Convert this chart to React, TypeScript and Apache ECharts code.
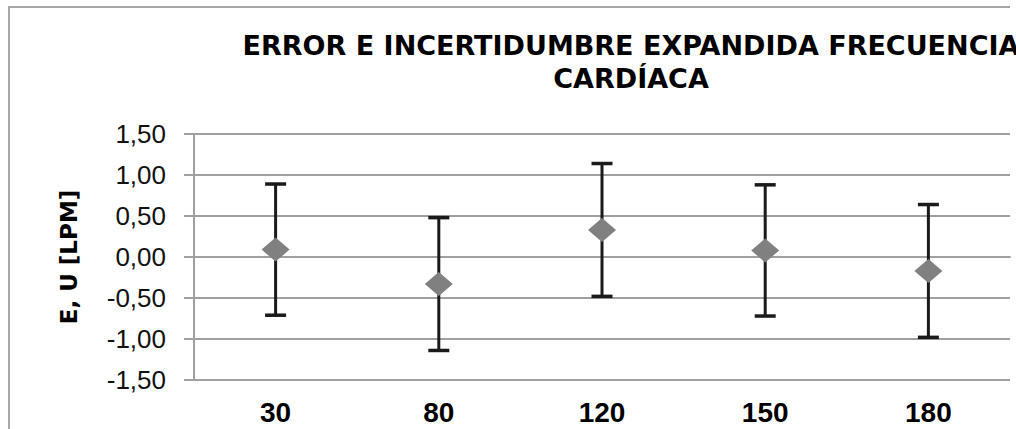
import React, { useEffect, useRef } from "react";
import * as echarts from "echarts";

const categories = ["30", "80", "120", "150", "180"];
const errorE = [0.09, -0.33, 0.33, 0.08, -0.17];
const uncertaintyU = [0.8, 0.81, 0.81, 0.8, 0.81];
const yMin = -1.5;
const yMax = 1.5;
const yInterval = 0.5;

export default function App() {
  const ref = useRef<HTMLDivElement>(null);

  useEffect(() => {
    if (!ref.current) return;
    const chart = echarts.init(ref.current, undefined, { renderer: "svg" });
    const barData = categories.map((_, i) => [i, errorE[i] - uncertaintyU[i], errorE[i] + uncertaintyU[i]]);
    const gridColor = "#a0a0a0";
    chart.setOption({
      animation: false,
      backgroundColor: "#ffffff",
      title: {
        text: "ERROR E INCERTIDUMBRE EXPANDIDA FRECUENCIA\nCARDÍACA",
        left: 631,
        top: 29,
        padding: 0,
        textAlign: "center",
        textStyle: {
          fontFamily: "DejaVu Sans",
          fontWeight: "bold",
          fontSize: 27,
          lineHeight: 33,
          color: "#000000",
        },
      },
      graphic: [
        { type: "line", shape: { x1: 9, y1: 7, x2: 9, y2: 429 }, style: { stroke: "#a6a6a6", lineWidth: 2 } },
        { type: "line", shape: { x1: 8, y1: 7, x2: 1010, y2: 7 }, style: { stroke: "#a6a6a6", lineWidth: 2 } },
      ],
      grid: { left: 194, right: 6, top: 134, bottom: 49, containLabel: false },
      xAxis: {
        type: "category",
        data: categories,
        axisTick: { show: false },
        axisLine: { show: true, lineStyle: { color: gridColor, width: 2 } },
        axisLabel: {
          margin: 18,
          fontFamily: "Liberation Sans",
          fontWeight: "bold",
          fontSize: 28,
          color: "#000000",
        },
        splitLine: { show: false },
      },
      yAxis: {
        type: "value",
        min: yMin,
        max: yMax,
        interval: yInterval,
        name: "E, U [LPM]",
        nameLocation: "middle",
        nameGap: 114,
        nameTextStyle: {
          fontFamily: "DejaVu Sans",
          fontWeight: "bold",
          fontSize: 23,
          color: "#000000",
        },
        axisLine: { show: true, lineStyle: { color: gridColor, width: 2 } },
        axisTick: { show: true, length: 10, lineStyle: { color: gridColor, width: 2 } },
        splitLine: { show: true, lineStyle: { color: gridColor, width: 2 } },
        axisLabel: {
          margin: 28,
          fontFamily: "Liberation Sans",
          fontSize: 26,
          color: "#111111",
          formatter: (v: number) => v.toFixed(2).replace(".", ","),
        },
      },
      series: [
        {
          type: "custom",
          z: 2,
          data: barData,
          encode: { x: 0, y: [1, 2] },
          renderItem: (params: any, api: any) => {
            const x = api.value(0);
            const lo = api.coord([x, api.value(1)]);
            const hi = api.coord([x, api.value(2)]);
            const hw = 10.5;
            const st = { stroke: "#1a1a1a", lineWidth: 3, fill: "none" };
            const cap = { stroke: "#1a1a1a", lineWidth: 3.5, fill: "none" };
            return {
              type: "group",
              children: [
                { type: "line", shape: { x1: hi[0], y1: hi[1], x2: lo[0], y2: lo[1] }, style: st },
                { type: "line", shape: { x1: hi[0] - hw, y1: hi[1], x2: hi[0] + hw, y2: hi[1] }, style: cap },
                { type: "line", shape: { x1: lo[0] - hw, y1: lo[1], x2: lo[0] + hw, y2: lo[1] }, style: cap },
              ],
            };
          },
        },
        {
          type: "scatter",
          z: 3,
          data: errorE,
          symbol: "diamond",
          symbolSize: [28, 24],
          itemStyle: { color: "#808080", opacity: 1 },
        },
      ],
    });
    return () => chart.dispose();
  }, []);

  return (
    <div
      ref={ref}
      style={{ position: "fixed", left: 0, top: 0, width: 1016, height: 429, background: "#fff" }}
    />
  );
}
